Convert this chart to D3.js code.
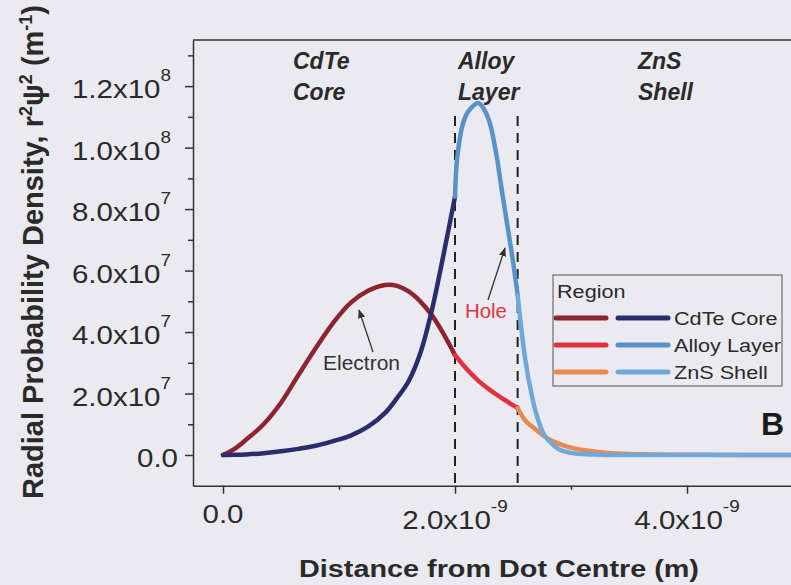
<!DOCTYPE html>
<html><head><meta charset="utf-8">
<script src="https://cdn.jsdelivr.net/npm/d3@7"></script>
<style>html,body{margin:0;padding:0;background:#ebeaf1;} svg{display:block;font-family:"Liberation Sans",Arial,sans-serif;}</style>
</head><body>
<svg id="chart" width="791" height="585"></svg>
<script>
// ---- data (distance in m, density in m^-1) ----
const regions = ["CdTe Core", "Alloy Layer", "ZnS Shell"];
const regionBounds = [2.0e-9, 2.54e-9];

const coreDistance = [0, 0.1e-9, 0.2e-9, 0.35e-9, 0.5e-9, 0.65e-9, 0.8e-9, 0.95e-9, 1.1e-9, 1.25e-9, 1.4e-9, 1.5e-9, 1.6e-9, 1.7e-9, 1.8e-9, 1.9e-9, 2.0e-9];
const coreElectron = [0, 0.2e7, 0.5e7, 1.0e7, 1.7e7, 2.6e7, 3.48e7, 4.3e7, 4.95e7, 5.34e7, 5.53e7, 5.5e7, 5.32e7, 5.0e7, 4.55e7, 3.95e7, 3.25e7];
const coreHole     = [0, 0.005e7, 0.02e7, 0.06e7, 0.12e7, 0.2e7, 0.3e7, 0.45e7, 0.63e7, 0.92e7, 1.38e7, 1.85e7, 2.4e7, 3.3e7, 4.7e7, 6.5e7, 8.4e7];

const alloyDistance = [2.0e-9, 2.02e-9, 2.07e-9, 2.12e-9, 2.2e-9, 2.25e-9, 2.3e-9, 2.36e-9, 2.4e-9, 2.45e-9, 2.5e-9, 2.54e-9];
const alloyElectron = [3.25e7, 3.16e7, 2.93e7, 2.72e7, 2.42e7, 2.26e7, 2.12e7, 1.96e7, 1.86e7, 1.74e7, 1.62e7, 1.53e7];
const alloyHole     = [8.4e7, 9.7e7, 10.8e7, 11.2e7, 11.45e7, 11.25e7, 10.8e7, 9.7e7, 8.7e7, 7.5e7, 6.3e7, 5.2e7];

const shellDistance = [2.54e-9, 2.6e-9, 2.67e-9, 2.76e-9, 2.82e-9, 2.9e-9, 3.0e-9, 3.1e-9, 3.25e-9, 3.4e-9, 3.7e-9, 4.0e-9, 4.5e-9, 5.0e-9, 5.5e-9, 6.0e-9];
const shellElectron = [1.53e7, 1.15e7, 0.91e7, 0.64e7, 0.49e7, 0.36e7, 0.24e7, 0.16e7, 0.09e7, 0.05e7, 0.02e7, 0.01e7, 0, 0, 0, 0];
const shellHole     = [5.2e7, 3.25e7, 1.8e7, 0.72e7, 0.42e7, 0.18e7, 0.07e7, 0.03e7, 0.01e7, 0, 0, 0, 0, 0, 0, 0];

const electronColors = ["#8e2430", "#e3323f", "#e8894f"];
const holeColors = ["#2b2d6b", "#5892c7", "#6fa8db"];

const xTicks = [0, 2e-9, 4e-9];
const xTickLabels = [["0.0", ""], ["2.0x10", "-9"], ["4.0x10", "-9"]];
const xMinorTicks = [1e-9, 3e-9];
const yTicks = [0, 2e7, 4e7, 6e7, 8e7, 1e8, 1.2e8];
const yTickLabels = [["0.0", ""], ["2.0x10", "7"], ["4.0x10", "7"], ["6.0x10", "7"], ["8.0x10", "7"], ["1.0x10", "8"], ["1.2x10", "8"]];
const yMinorTicks = [1e7, 3e7, 5e7, 7e7, 9e7, 1.1e8, 1.3e8];

// ---- layout ----
const svg = d3.select("#chart");
const plotLeft = 193, plotTop = 40, plotBottom = 485.75;
const x = d3.scaleLinear().domain([0, 2e-9]).range([223, 455]);
const xMaxVal = x.invert(900);
x.domain([x.invert(plotLeft), xMaxVal]).range([plotLeft, 900]);
const y = d3.scaleLinear().domain([-1e7, 1.35e8]).range([plotBottom, plotTop]);
const ink = "#2a2a2a";
const SX = 1.18;

// axes
svg.append("g").attr("transform", `translate(0,${plotBottom})`)
  .call(d3.axisBottom(x).tickValues(xTicks).tickSize(8).tickSizeOuter(0).tickFormat(""));
svg.append("g").attr("transform", `translate(0,${plotBottom})`)
  .call(d3.axisBottom(x).tickValues(xMinorTicks).tickSize(4).tickSizeOuter(0).tickFormat(""))
  .select(".domain").remove();
svg.append("g").attr("transform", `translate(${plotLeft},0)`)
  .call(d3.axisLeft(y).tickValues(yTicks).tickSize(8).tickSizeOuter(0).tickFormat(""));
svg.append("g").attr("transform", `translate(${plotLeft},0)`)
  .call(d3.axisLeft(y).tickValues(yMinorTicks).tickSize(5).tickSizeOuter(0).tickFormat(""))
  .select(".domain").remove();
svg.selectAll(".domain, .tick line").attr("stroke", "#333").attr("stroke-width", 1.5);
svg.append("line").attr("x1", plotLeft).attr("x2", 900).attr("y1", plotTop).attr("y2", plotTop)
  .attr("stroke", "#333").attr("stroke-width", 1.5);

// tick labels
yTicks.forEach((v, i) => {
  const [main, sup] = yTickLabels[i];
  const t = svg.append("text")
    .attr("transform", `translate(${sup ? 171 : 178},${y(v) + 12}) scale(${SX},1)`)
    .attr("text-anchor", "end").attr("font-size", 25).attr("fill", ink).text(main);
  if (sup) t.append("tspan").attr("dy", -17).attr("font-size", 16).text(sup);
});
xTicks.forEach((v, i) => {
  const [main, sup] = xTickLabels[i];
  const t = svg.append("text")
    .attr("transform", `translate(${x(v)},${sup ? 529 : 523}) scale(${SX},1)`)
    .attr("text-anchor", "middle").attr("font-size", 25).attr("fill", ink).text(main);
  if (sup) t.append("tspan").attr("dy", -17).attr("font-size", 16).text(sup);
});

// axis titles
svg.append("text").attr("transform", `translate(499,577) scale(1.2,1)`)
  .attr("text-anchor", "middle").attr("font-size", 24).attr("font-weight", "bold").attr("fill", ink)
  .text("Distance from Dot Centre (m)");
const yl = svg.append("text").attr("transform", `translate(43,252) rotate(-90)`)
  .attr("text-anchor", "middle").attr("font-size", 29).attr("font-weight", "bold").attr("fill", ink);
yl.append("tspan").text("Radial Probability Density, r");
yl.append("tspan").attr("dy", -11).attr("font-size", 18).text("2");
yl.append("tspan").attr("dy", 11).text("ψ");
yl.append("tspan").attr("dy", -11).attr("font-size", 18).text("2");
yl.append("tspan").attr("dy", 11).text(" (m");
yl.append("tspan").attr("dy", -11).attr("font-size", 18).text("-1");
yl.append("tspan").attr("dy", 11).text(")");

// region boundaries
regionBounds.forEach(b => {
  svg.append("line").attr("x1", x(b)).attr("x2", x(b)).attr("y1", 116).attr("y2", plotBottom)
    .attr("stroke", "#222").attr("stroke-width", 2).attr("stroke-dasharray", "10,7");
});

// region labels
const regionLabelX = [293, 458, 638];
const regionLabelLines = [["CdTe", "Core"], ["Alloy", "Layer"], ["ZnS", "Shell"]];
regionLabelLines.forEach((lines, i) => {
  lines.forEach((s, j) => {
    svg.append("text").attr("x", regionLabelX[i]).attr("y", 69 + j * 31)
      .attr("font-size", 23).attr("font-weight", "bold").attr("font-style", "italic").attr("fill", ink).text(s);
  });
});

// curves
const smooth = d3.line().x(d => x(d[0])).y(d => y(d[1])).curve(d3.curveCatmullRom.alpha(0.5));
const mono = d3.line().x(d => x(d[0])).y(d => y(d[1])).curve(d3.curveMonotoneX);
const segs = [[coreDistance, coreElectron, coreHole], [alloyDistance, alloyElectron, alloyHole], [shellDistance, shellElectron, shellHole]];
const gen = i => (i === 2 ? mono : smooth);
segs.forEach(([dx, de], i) => {
  svg.append("path").attr("d", gen(i)(d3.zip(dx, de))).attr("fill", "none")
    .attr("stroke", electronColors[i]).attr("stroke-width", 4.5).attr("stroke-linecap", "round");
});
segs.forEach(([dx, , dh], i) => {
  svg.append("path").attr("d", gen(i)(d3.zip(dx, dh))).attr("fill", "none")
    .attr("stroke", holeColors[i]).attr("stroke-width", 4.5).attr("stroke-linecap", "round");
});

// annotations
const defs = svg.append("defs");
defs.append("marker").attr("id", "arr").attr("viewBox", "0 0 10 10").attr("refX", 9).attr("refY", 5)
  .attr("markerWidth", 7).attr("markerHeight", 7).attr("orient", "auto")
  .append("path").attr("d", "M0,1 L10,5 L0,9 Z").attr("fill", "#333");
svg.append("line").attr("x1", 373).attr("y1", 352).attr("x2", 359).attr("y2", 310)
  .attr("stroke", "#333").attr("stroke-width", 1.3).attr("marker-end", "url(#arr)");
svg.append("text").attr("transform", "translate(323,370) scale(1.05,1)").attr("font-size", 20).attr("fill", "#333").text("Electron");
svg.append("line").attr("x1", 488).attr("y1", 300).attr("x2", 505).attr("y2", 248)
  .attr("stroke", "#333").attr("stroke-width", 1.3).attr("marker-end", "url(#arr)");
svg.append("text").attr("transform", "translate(465,318) scale(1.02,1)").attr("font-size", 20).attr("fill", "#e3323f").text("Hole");

// legend
const lg = svg.append("g");
lg.append("rect").attr("x", 553).attr("y", 275).attr("width", 229).attr("height", 111)
  .attr("fill", "none").attr("stroke", "#555").attr("stroke-width", 1);
lg.append("text").attr("transform", "translate(557,298) scale(1.17,1)").attr("font-size", 18.5).attr("fill", ink).text("Region");
regions.forEach((r, i) => {
  const ry = 318 + i * 27;
  lg.append("line").attr("x1", 556).attr("x2", 606).attr("y1", ry).attr("y2", ry)
    .attr("stroke", electronColors[i]).attr("stroke-width", 5).attr("stroke-linecap", "round");
  lg.append("line").attr("x1", 618).attr("x2", 668).attr("y1", ry).attr("y2", ry)
    .attr("stroke", holeColors[i]).attr("stroke-width", 5).attr("stroke-linecap", "round");
  lg.append("text").attr("transform", `translate(674,${ry + 7}) scale(1.17,1)`).attr("font-size", 18.5).attr("fill", ink).text(r);
});

// panel letter
svg.append("text").attr("x", 761).attr("y", 435).attr("font-size", 32).attr("font-weight", "bold").attr("fill", "#1a1a1a").text("B");
</script>
</body></html>
